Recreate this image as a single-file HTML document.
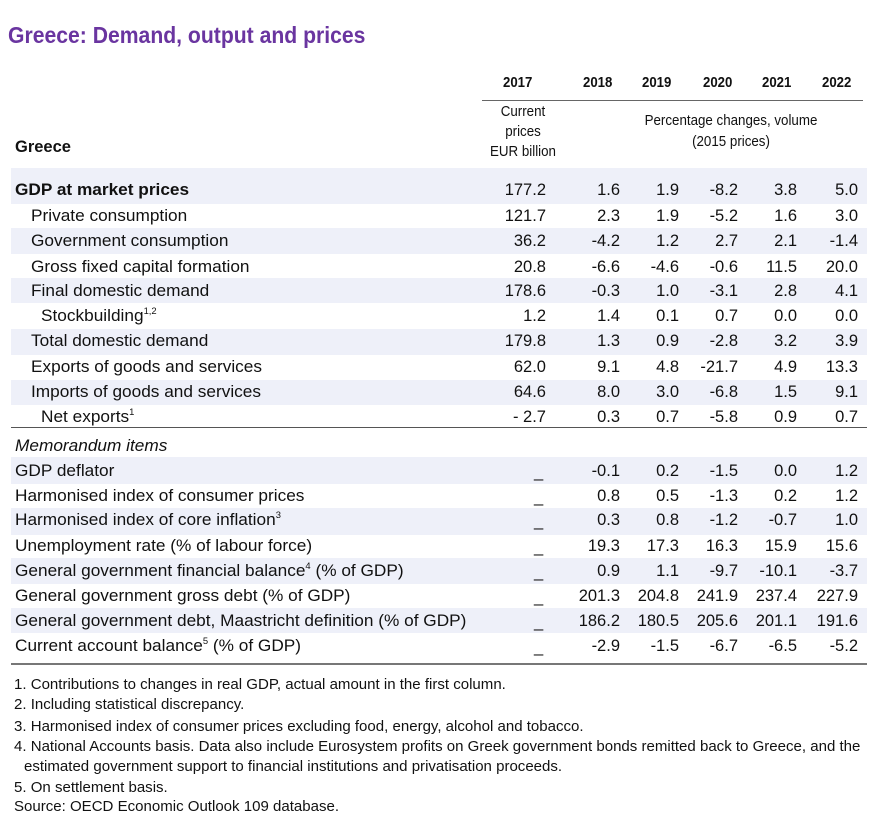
<!DOCTYPE html>
<html><head><meta charset="utf-8"><style>
body{margin:0;width:880px;height:827px;background:#fff;position:relative;font-family:"Liberation Sans",Arial,sans-serif;color:#111;overflow:hidden}
.a{position:absolute;white-space:nowrap}
.t{left:8px;top:22px;font-size:23px;font-weight:bold;color:#6a35a0;transform:scaleX(0.92);transform-origin:left top}
.sh{position:absolute;left:11px;width:856px;background:#eef0f9}
.r{position:absolute;left:11px;width:856px;height:24px;font-size:16.5px;line-height:24px}
.r span{position:absolute}
.r span.l{transform:scaleX(1.045);transform-origin:left top}
.n{text-align:right;width:70px}
.h{font-size:15px;font-weight:bold;transform:scaleX(0.88);transform-origin:left top}
.f{font-size:14.6px;left:14px;transform:scaleX(1.03);transform-origin:left top}
sup{font-size:9px;vertical-align:7px;line-height:0}
</style></head><body>
<div class="a t">Greece: Demand, output and prices</div>
<div class="a h" style="left:503px;top:74px">2017</div>
<div class="a h" style="left:583px;top:74px">2018</div>
<div class="a h" style="left:642px;top:74px">2019</div>
<div class="a h" style="left:703px;top:74px">2020</div>
<div class="a h" style="left:762px;top:74px">2021</div>
<div class="a h" style="left:822px;top:74px">2022</div>
<div class="a" style="left:482px;top:100px;width:381px;height:1px;background:#666"></div>
<div class="a" style="left:478px;top:102px;width:90px;text-align:center;font-size:14.5px;line-height:20px;transform:scaleX(0.92)">Current<br>prices<br>EUR billion</div>
<div class="a" style="left:606px;top:111px;width:250px;text-align:center;font-size:14.5px;line-height:21px;transform:scaleX(0.92)">Percentage changes, volume<br>(2015 prices)</div>
<div class="a" style="left:15px;top:138px;font-size:16.5px;font-weight:bold">Greece</div>

<div class="sh" style="top:168px;height:36px"></div>
<div class="sh" style="top:228px;height:26px"></div>
<div class="sh" style="top:278px;height:25px"></div>
<div class="sh" style="top:329px;height:26px"></div>
<div class="sh" style="top:380px;height:25px"></div>
<div class="a" style="left:11px;top:427px;width:856px;height:1px;background:#555"></div>
<div class="sh" style="top:457px;height:27px"></div>
<div class="sh" style="top:508px;height:27px"></div>
<div class="sh" style="top:558px;height:26px"></div>
<div class="sh" style="top:608px;height:25px"></div>
<div class="a" style="left:11px;top:663px;width:856px;height:2px;background:#777"></div>

<div id="rows"></div>
<script>
var rows=[
[178,'<b>GDP at market prices</b>',4,'177.2',['1.6','1.9','-8.2','3.8','5.0'],1],
[204,'Private consumption',20,'121.7',['2.3','1.9','-5.2','1.6','3.0']],
[229,'Government consumption',20,'36.2',['-4.2','1.2','2.7','2.1','-1.4']],
[255,'Gross fixed capital formation',20,'20.8',['-6.6','-4.6','-0.6','11.5','20.0']],
[279,'Final domestic demand',20,'178.6',['-0.3','1.0','-3.1','2.8','4.1']],
[304,'Stockbuilding<sup>1,2</sup>',30,'1.2',['1.4','0.1','0.7','0.0','0.0']],
[329,'Total domestic demand',20,'179.8',['1.3','0.9','-2.8','3.2','3.9']],
[355,'Exports of goods and services',20,'62.0',['9.1','4.8','-21.7','4.9','13.3']],
[380,'Imports of goods and services',20,'64.6',['8.0','3.0','-6.8','1.5','9.1']],
[405,'Net exports<sup>1</sup>',30,'- 2.7',['0.3','0.7','-5.8','0.9','0.7']],
[434,'<i>Memorandum items</i>',4,null,null],
[459,'GDP deflator',4,'_',['-0.1','0.2','-1.5','0.0','1.2']],
[484,'Harmonised index of consumer prices',4,'_',['0.8','0.5','-1.3','0.2','1.2']],
[508,'Harmonised index of core inflation<sup>3</sup>',4,'_',['0.3','0.8','-1.2','-0.7','1.0']],
[534,'Unemployment rate (% of labour force)',4,'_',['19.3','17.3','16.3','15.9','15.6']],
[559,'General government financial balance<sup>4</sup> (% of GDP)',4,'_',['0.9','1.1','-9.7','-10.1','-3.7']],
[584,'General government gross debt (% of GDP)',4,'_',['201.3','204.8','241.9','237.4','227.9']],
[609,'General government debt, Maastricht definition (% of GDP)',4,'_',['186.2','180.5','205.6','201.1','191.6']],
[634,'Current account balance<sup>5</sup> (% of GDP)',4,'_',['-2.9','-1.5','-6.7','-6.5','-5.2']]
];
var R=[620,679,738,797,858],h='';
rows.forEach(function(r){
 h+='<div class="r" style="top:'+r[0]+'px"><span class="l" style="left:'+r[2]+'px">'+r[1]+'</span>';
 if(r[3]!==null){
  if(r[3]=='_')h+='<span style="left:523px;top:1px">_</span>';
  else h+='<span class="n" style="left:'+(546-11-70)+'px">'+r[3]+'</span>';
  r[4].forEach(function(v,i){h+='<span class="n" style="left:'+(R[i]-11-70)+'px">'+v+'</span>';});
 }
 h+='</div>';
});
document.getElementById('rows').innerHTML=h;
</script>
<div class="a f" style="top:677px">1.  Contributions to changes in real GDP, actual amount in the first column.</div>
<div class="a f" style="top:697px">2.  Including statistical discrepancy.</div>
<div class="a f" style="top:719px">3.  Harmonised index of consumer prices excluding food, energy, alcohol and tobacco.</div>
<div class="a f" style="top:739px">4.  National Accounts basis. Data also include Eurosystem profits on Greek government bonds remitted back to Greece, and the</div>
<div class="a f" style="top:759px;left:24px">estimated government support to financial institutions and privatisation proceeds.</div>
<div class="a f" style="top:780px">5.  On settlement basis.</div>
<div class="a f" style="top:799px">Source:  OECD Economic Outlook 109 database.</div>
</body></html>
